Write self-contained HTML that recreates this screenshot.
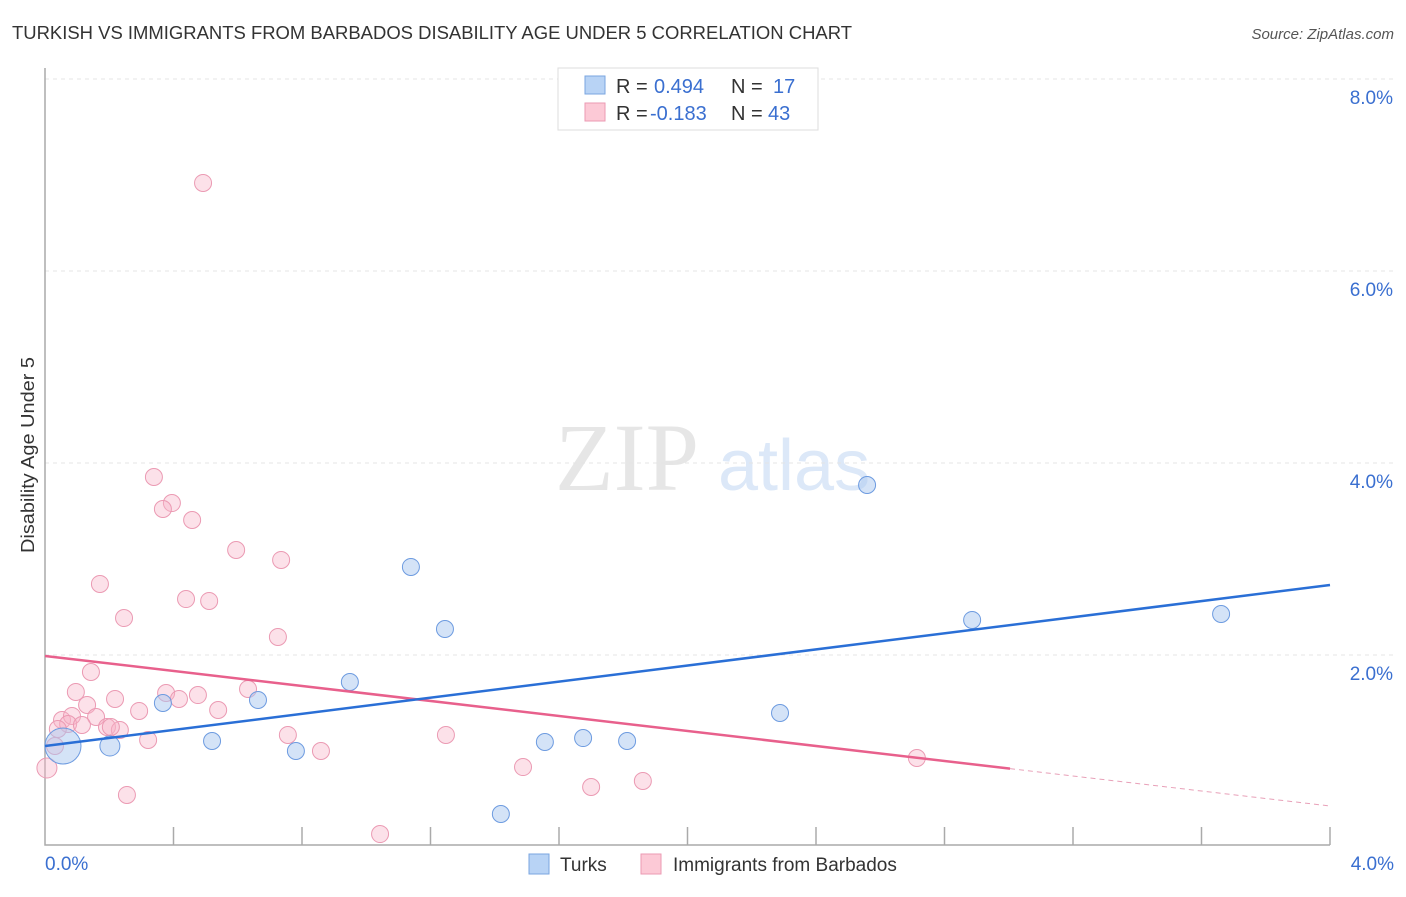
<!DOCTYPE html>
<html><head><meta charset="utf-8"><style>
body{margin:0;background:#fff;width:1406px;height:892px;overflow:hidden;font-family:"Liberation Sans",sans-serif}
</style></head><body>
<svg id="c" width="1406" height="892" xmlns="http://www.w3.org/2000/svg">
<text x="12" y="39" font-size="18.3" fill="#333" textLength="840" lengthAdjust="spacingAndGlyphs">TURKISH VS IMMIGRANTS FROM BARBADOS DISABILITY AGE UNDER 5 CORRELATION CHART</text>
<text x="1394" y="39" font-size="15" fill="#555" text-anchor="end" font-style="italic">Source: ZipAtlas.com</text>
<text transform="translate(34,455) rotate(-90)" font-size="18" fill="#333" text-anchor="middle" textLength="196" lengthAdjust="spacingAndGlyphs">Disability Age Under 5</text>
<g><text x="555" y="490" font-family="Liberation Serif,serif" font-size="96" fill="#e6e6e6">ZIP</text><text x="718" y="490" font-size="72" fill="#dce8f8">atlas</text></g>
<g id="grid"></g><g id="marks"></g>
<g>
<rect x="558" y="68" width="260" height="62" fill="#fff" stroke="#ddd"/>
<rect x="585" y="76" width="20" height="18" fill="#b8d3f5" stroke="#7aa6e0"/>
<rect x="585" y="103" width="20" height="18" fill="#fcc9d6" stroke="#eb9ab3"/>
<text x="616" y="93" font-size="20" fill="#333">R =</text><text x="654" y="93" font-size="20" fill="#3a6fd0">0.494</text>
<text x="731" y="93" font-size="20" fill="#333">N =</text><text x="773" y="93" font-size="20" fill="#3a6fd0">17</text>
<text x="616" y="120" font-size="20" fill="#333">R =</text><text x="650" y="120" font-size="20" fill="#3a6fd0">-0.183</text>
<text x="731" y="120" font-size="20" fill="#333">N =</text><text x="768" y="120" font-size="20" fill="#3a6fd0">43</text>
</g>
<g>
<rect x="529" y="854" width="20" height="20" fill="#b8d3f5" stroke="#7aa6e0"/><text x="560" y="871" font-size="19" fill="#333">Turks</text>
<rect x="641" y="854" width="20" height="20" fill="#fcc9d6" stroke="#eb9ab3"/><text x="673" y="871" font-size="19" fill="#333">Immigrants from Barbados</text>
</g>
</svg>
<script>
const yTicks=[2,4,6,8];
const yTickLabels=["2.0%","4.0%","6.0%","8.0%"];
const blueX=[0.056,0.202,0.367,0.520,0.663,0.781,0.949,1.139,1.245,1.556,1.675,1.812,2.288,2.559,2.886,3.661,1.419];
const blueY=[1.052,1.052,1.5,1.104,1.531,1.0,1.719,2.917,2.271,1.094,1.135,1.104,1.396,3.771,2.365,2.427,0.344];
const blueR=[18,10,8.5,8.5,8.5,8.5,8.5,8.5,8.5,8.5,8.5,8.5,8.5,8.5,8.5,8.5,8.5];
const pinkX=[0.492,0.339,0.395,0.367,0.458,0.595,0.735,0.171,0.439,0.511,0.246,0.725,0.143,0.096,0.218,0.377,0.476,0.417,0.632,0.131,0.293,0.539,0.159,0.053,0.084,0.072,0.115,0.040,0.193,0.233,0.205,0.321,0.031,0.006,0.756,0.859,1.248,1.488,1.700,1.861,2.714,0.255,1.043];
const pinkY=[6.917,3.854,3.583,3.521,3.406,3.094,2.990,2.740,2.583,2.563,2.385,2.188,1.823,1.615,1.542,1.604,1.583,1.542,1.646,1.479,1.417,1.427,1.354,1.323,1.365,1.281,1.271,1.229,1.25,1.219,1.25,1.115,1.052,0.823,1.167,1.0,1.167,0.833,0.625,0.688,0.927,0.542,0.135];
const blueLine=[1.052,2.729];
const pinkLine=[1.99,0.427];
const pinkSolidEnd=3.004;
const NS="http://www.w3.org/2000/svg";
const X=v=>45+v*321.25, Y=v=>847-v*96;
function mk(t,a,p){const e=document.createElementNS(NS,t);for(const k in a)e.setAttribute(k,a[k]);p.appendChild(e);return e;}
const g=document.getElementById('grid'),m=document.getElementById('marks');
yTicks.forEach((t,i)=>{const l=mk('line',{x1:45,x2:1395,y1:Y(t),y2:Y(t),stroke:'#e4e4e4','stroke-dasharray':'4,4'},g);


const tx=mk('text',{x:1393,y:Y(t)+25,'font-size':19,fill:'#3a6fd0','text-anchor':'end'},g);tx.textContent=yTickLabels[i];

});
const ax=mk('path',{d:`M45,68 V845 H1330`,stroke:'#aaa',fill:'none','stroke-width':1.5},g);


for(let i=1;i<=10;i++){const t=mk('line',{x1:X(i*0.4),x2:X(i*0.4),y1:827,y2:845,stroke:'#aaa','stroke-width':1.5},g);

}
[["0.0%",45,'start'],["4.0%",1394,'end']].forEach(a=>{const t=mk('text',{x:a[1],y:870,'font-size':19,fill:'#3a6fd0','text-anchor':a[2]},g);t.textContent=a[0];

});
pinkX.forEach((v,i)=>{const c=mk('circle',{cx:X(v),cy:Y(pinkY[i]),r:i==33?10:8.5,fill:'rgba(248,180,200,0.4)',stroke:'#eb9ab3','stroke-width':1},m);

});
blueX.forEach((v,i)=>{const c=mk('circle',{cx:X(v),cy:Y(blueY[i]),r:blueR[i],fill:'rgba(170,200,240,0.5)',stroke:'#6d9be0','stroke-width':1},m);

});
const pAt=x=>pinkLine[0]+(pinkLine[1]-pinkLine[0])*x/4;
let l1=mk('line',{x1:X(0),y1:Y(pinkLine[0]),x2:X(pinkSolidEnd),y2:Y(pAt(pinkSolidEnd)),stroke:'#e8608c','stroke-width':2.5},m);


let l2=mk('line',{x1:X(pinkSolidEnd),y1:Y(pAt(pinkSolidEnd)),x2:X(4),y2:Y(pinkLine[1]),stroke:'#e8a0b8','stroke-width':1,'stroke-dasharray':'5,4'},m);


let l3=mk('line',{x1:X(0),y1:Y(blueLine[0]),x2:X(4),y2:Y(blueLine[1]),stroke:'#2a6fd6','stroke-width':2.5},m);


</script>
</body></html>
